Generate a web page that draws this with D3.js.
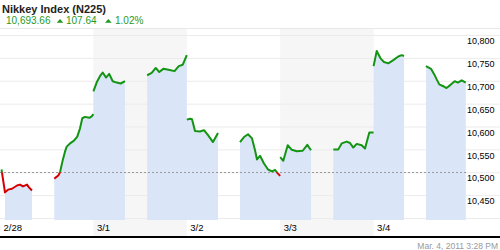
<!DOCTYPE html>
<html>
<head>
<meta charset="utf-8">
<script src="https://cdn.jsdelivr.net/npm/d3@7"></script>
<style>
    body { margin: 0; background: #fff; }
    svg { display: block; font-family: "Liberation Sans", Arial, sans-serif; }
</style>
</head>
<body>
<div id="chart"></div>
<script>
// ---- data ----
const xLabels = ["2/28", "3/1", "3/2", "3/3", "3/4"];
const dayStarts = [0, 24, 48, 72, 96];          // hours since 2/28 00:00
const yTicks = [10400, 10450, 10500, 10550, 10600, 10650, 10700, 10750, 10800];
const refLevel = 10500;

const title = "Nikkey Index (N225)";
const lastValue = "10,693.66";
const change = "107.64";
const changePct = "1.02%";
const timeStamp = "Mar. 4, 2011 3:28 PM";

// [hour, value] per trading stretch
const session1 = [[0.39, 10506], [1.28, 10456], [2.06, 10462], [3.08, 10464], [4.37, 10471], [5.14, 10473], [5.91, 10469], [6.94, 10473], [7.45, 10467], [8.22, 10460]];
const session2a = [[13.95, 10486], [14.98, 10493], [15.42, 10500], [16.11, 10526], [16.70, 10545], [17.14, 10556], [17.99, 10563], [19.01, 10569], [19.86, 10578], [20.56, 10596], [21.15, 10618], [21.84, 10621], [22.95, 10619], [23.56, 10622], [24.0, 10627]];
const session2b = [[24.0, 10677], [24.93, 10698], [25.82, 10712], [26.39, 10718], [27.24, 10707], [28.06, 10715], [28.96, 10699], [29.99, 10696], [31.02, 10694], [32.12, 10699]];
const session3a = [[37.82, 10712], [38.98, 10717], [40.03, 10728], [40.93, 10719], [41.96, 10726], [43.30, 10724], [44.84, 10721], [45.94, 10732], [46.97, 10735], [48.0, 10756]];
const session3b = [[48.0, 10615], [48.82, 10617], [49.34, 10616], [50.11, 10590], [51.39, 10589], [52.42, 10592], [53.45, 10581], [54.73, 10566], [56.02, 10586]];
const session4a = [[61.67, 10566], [62.70, 10577], [63.73, 10583], [64.76, 10574], [65.53, 10548], [66.04, 10528], [66.81, 10536], [67.84, 10519], [68.87, 10506], [69.89, 10502], [70.66, 10505], [71.43, 10497], [72.0, 10492]];
const session4b = [[72.0, 10533], [72.80, 10525], [73.93, 10559], [74.98, 10549], [76.27, 10546], [77.78, 10547], [78.96, 10560], [79.91, 10548]];
const session5a = [[85.65, 10550], [86.93, 10550], [87.80, 10563], [89.09, 10567], [89.94, 10564], [90.78, 10554], [91.66, 10562], [92.94, 10559], [93.79, 10552], [94.90, 10587], [96.0, 10587]];
const session5b = [[96.0, 10732], [96.80, 10765], [97.77, 10749], [98.67, 10741], [99.78, 10738], [101.06, 10745], [102.35, 10753], [103.22, 10756], [103.81, 10754]];
const session6a = [[109.46, 10732], [110.75, 10726], [111.52, 10715], [112.21, 10703], [112.88, 10692], [113.91, 10688], [114.73, 10684], [115.76, 10691], [116.84, 10699], [117.64, 10696], [118.64, 10701], [119.69, 10696]];

// sessions that share one filled block
const blocks = [[session1], [session2a, session2b], [session3a, session3b], [session4a, session4b], [session5a, session5b], [session6a]];

/** Draws the intraday chart. */
class IntradayChart {
    constructor() {
        this.width = 500;
        this.height = 250;
        this.plotTop = 28;
        this.plotBottom = 220;
        this.plotRight = 467;
        this.axisLine = 236;

        this.x = d3.scaleLinear().domain([0, 120]).range([0, this.plotRight]);
        this.y = d3.scaleLinear().domain([10400, 10800]).range([218, 35]);

        this.svg = d3.select("#chart").append("svg").attr("width", this.width).attr("height", this.height);
    }

    drawHeader() {
        let svg = this.svg;
        svg.append("text").attr("x", 2).attr("y", 12.5).attr("font-size", "11px").attr("font-weight", "bold").style("fill", "#222").text(title);

        let quote = svg.append("g").style("fill", "#1f9a1f").attr("font-size", "10px");
        quote.append("text").attr("x", 6).attr("y", 24).text(lastValue);
        quote.append("path").attr("d", "M56.7,22.7L63.3,22.7L60,19Z");
        quote.append("text").attr("x", 66).attr("y", 24).text(change);
        quote.append("path").attr("d", "M105,22.7L111.7,22.7L108.3,19Z");
        quote.append("text").attr("x", 115).attr("y", 24).text(changePct);
    }

    drawBackground() {
        let svg = this.svg, x = this.x;

        // shade every other day
        svg.selectAll(".band").data(dayStarts.filter((d, i) => i % 2 == 1)).enter().append("rect")
            .attr("class", "band").attr("x", d => x(d)).attr("y", this.plotTop)
            .attr("width", d => x(d + 24) - x(d)).attr("height", this.axisLine - this.plotTop).style("fill", "#f6f6f6");

        svg.append("line").attr("x1", 0).attr("x2", this.width).attr("y1", this.plotTop + 0.5).attr("y2", this.plotTop + 0.5).style("stroke", "#e8e8e8");

        let grid = svg.append("g").attr("transform", "translate(" + this.width + ",0)")
            .call(d3.axisLeft(this.y).tickValues(yTicks).tickSize(this.width).tickFormat(""));
        grid.select(".domain").remove();
        grid.selectAll("line").style("stroke", "#ebebeb");
    }

    drawSeries() {
        let svg = this.svg, x = this.x, y = this.y;
        let bottom = this.plotBottom;

        let area = d3.area().x(d => x(d[0])).y0(bottom).y1(d => y(d[1]));
        let line = d3.line().x(d => x(d[0])).y(d => y(d[1]));

        // fill under each block (the opening tick of the first block is line only)
        let fills = blocks.map((b, i) => {
            let pts = [].concat(...b);
            return i == 0 ? pts.slice(1) : pts;
        });
        svg.selectAll(".fill").data(fills).enter().append("path")
            .attr("class", "fill").attr("d", area).style("fill", "#dae5f7");

        // reference level
        svg.append("line").attr("x1", 0).attr("x2", x(120)).attr("y1", Math.round(y(refLevel)) + 0.5).attr("y2", Math.round(y(refLevel)) + 0.5)
            .style("stroke", "#9a9a9a").style("stroke-dasharray", "2,2");

        // green above the reference, red below
        let defs = svg.append("defs");
        defs.append("clipPath").attr("id", "clip-up").append("rect").attr("x", 0).attr("y", 0).attr("width", this.width).attr("height", y(refLevel));
        defs.append("clipPath").attr("id", "clip-down").append("rect").attr("x", 0).attr("y", y(refLevel)).attr("width", this.width).attr("height", this.height);

        let sessions = [].concat(...blocks);
        [["clip-up", "#139413"], ["clip-down", "#d40000"]].forEach(c => {
            svg.append("g").attr("clip-path", "url(#" + c[0] + ")")
                .selectAll("path").data(sessions).enter().append("path")
                .attr("d", line).style("fill", "none").style("stroke", c[1])
                .style("stroke-width", 2).style("stroke-linejoin", "round");
        });
    }

    drawAxes() {
        let svg = this.svg;

        let yAxis = svg.append("g").attr("transform", "translate(465,0)")
            .call(d3.axisRight(this.y).tickValues(yTicks.slice(1)).tickSize(0).tickPadding(2).tickFormat(d3.format(",")));
        yAxis.select(".domain").remove();
        yAxis.selectAll("text").attr("dy", 8.7).attr("font-size", "9px").attr("font-family", null).style("fill", "#000");

        let xAxis = svg.append("g").attr("transform", "translate(0," + this.plotBottom + ")")
            .call(d3.axisBottom(this.x).tickValues(dayStarts).tickSize(0).tickFormat((d, i) => xLabels[i]));
        xAxis.select(".domain").remove();
        xAxis.selectAll("text").attr("y", 0).attr("dy", 11).attr("dx", 3).attr("text-anchor", "start")
            .attr("font-size", "9.5px").attr("font-family", null).style("fill", "#000");

        svg.append("rect").attr("x", 0).attr("y", this.axisLine).attr("width", this.width).attr("height", 2).style("fill", "#000");

        svg.append("text").attr("x", 498).attr("y", 249).attr("text-anchor", "end").attr("font-size", "8.5px").style("fill", "#999").text(timeStamp);
    }
}

let chart = new IntradayChart();
chart.drawHeader();
chart.drawBackground();
chart.drawSeries();
chart.drawAxes();
</script>
</body>
</html>
